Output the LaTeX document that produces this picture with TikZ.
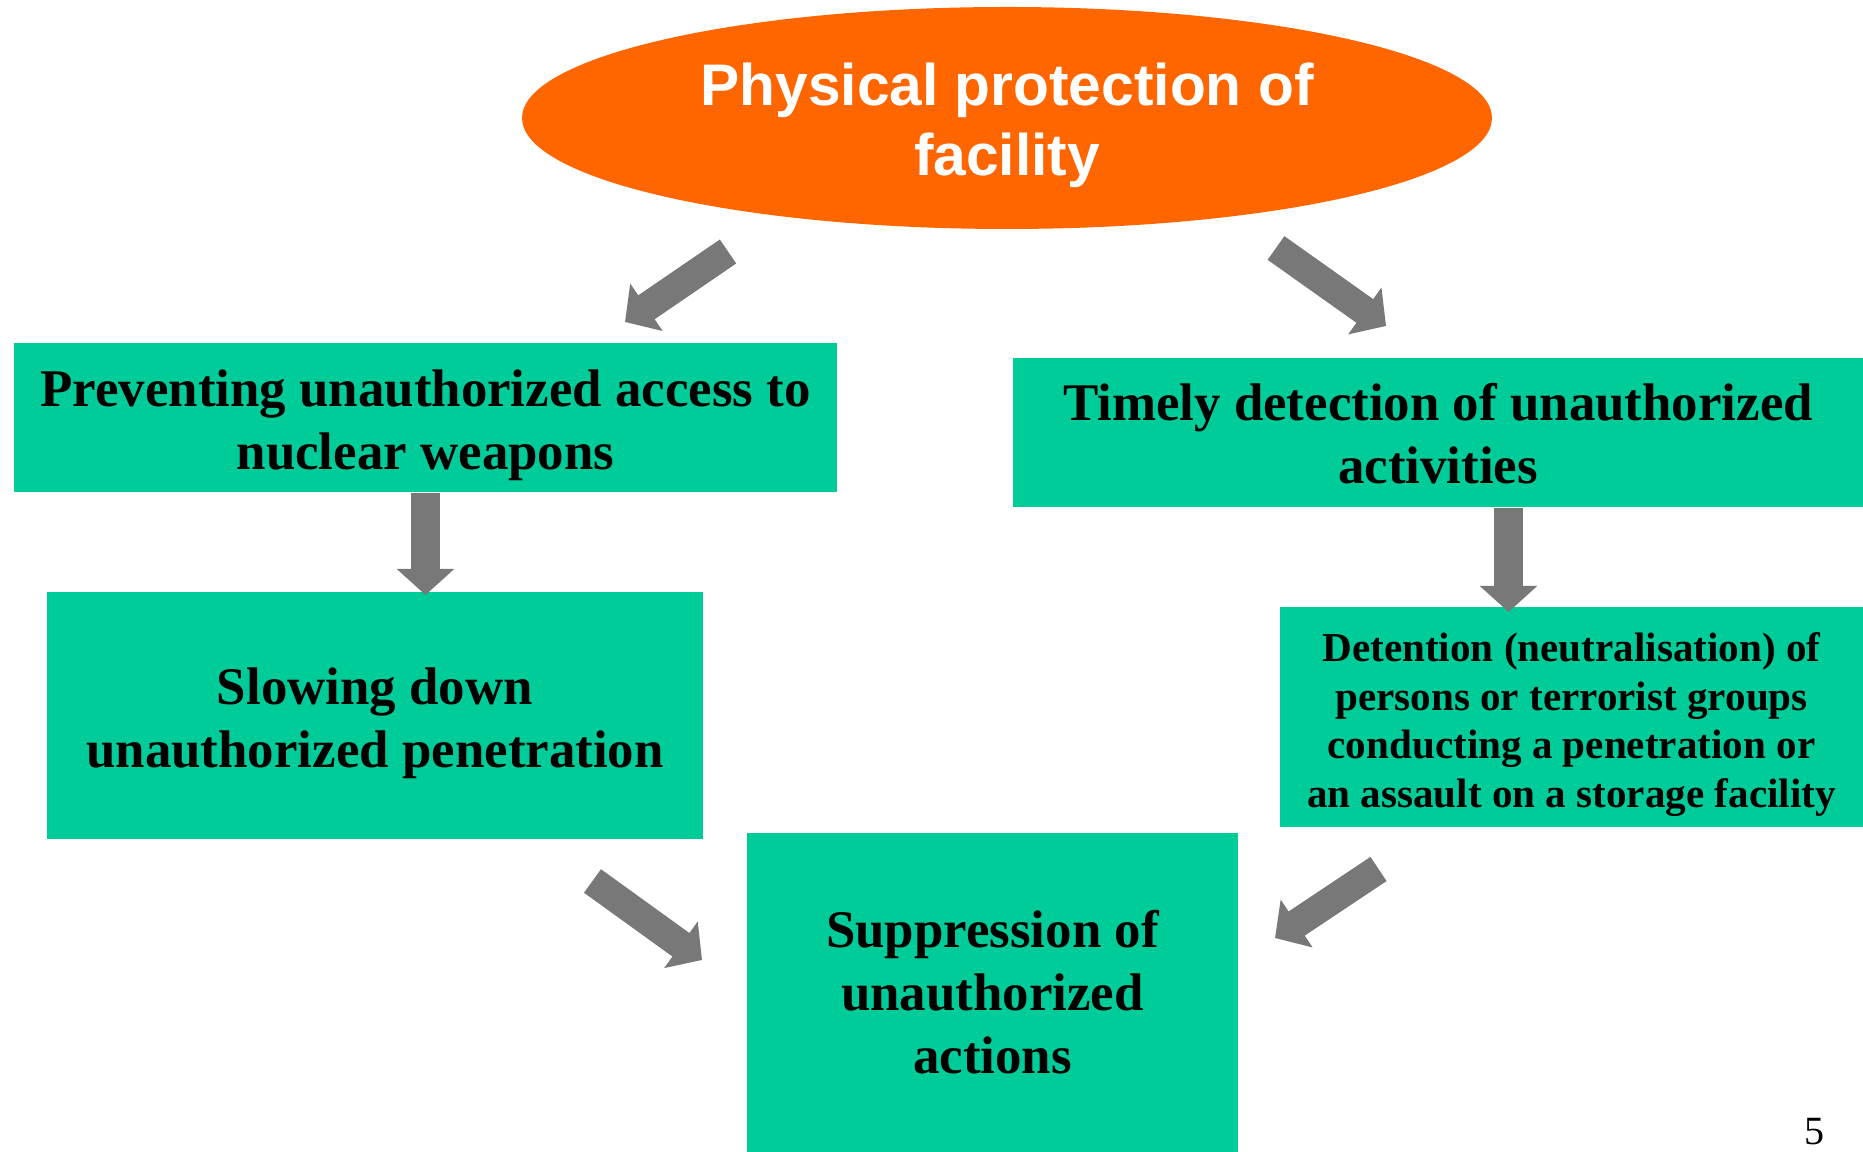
\documentclass[tikz,border=0pt]{standalone}
\usepackage{fontspec}
\setmainfont{Liberation Serif}
\newfontfamily\headfont{Liberation Sans}
\usetikzlibrary{shapes.geometric,arrows.meta}
\definecolor{ppteal}{RGB}{0,204,153}
\definecolor{pporange}{RGB}{255,102,0}
\definecolor{ppgray}{RGB}{120,120,120}
\newcommand{\lift}[1]{\rule{0pt}{#1}}

\begin{document}
\begin{tikzpicture}[x=0.1mm,y=-0.1mm,
  box/.style={fill=ppteal,inner sep=0pt,align=center,
    font=\bfseries\fontsize{15.05}{17.9}\selectfont},
  smallbox/.style={box,font=\bfseries\fontsize{11.7}{13.9}\selectfont},
  blockarrow/.style={ppgray,line width=2.9mm,
    -{Triangle[width=5.6mm,length=2.6mm]}}]
\useasboundingbox (0,0) rectangle (1863,1152);

%---------------------------------------------------
\node[ellipse,fill=pporange,inner sep=0pt,minimum width=97mm,minimum height=22.2mm,
  align=center,text=white,font=\headfont\bfseries\fontsize{16.7}{19.9}\selectfont]
  (phys) at (1007,118) {\lift{5.8mm}Physical protection of\\facility};

%---------------------------------------------------
\node[box,minimum width=82.3mm,minimum height=14.9mm] (prev) at (425.5,417.5)
  {\lift{5.2mm}Preventing unauthorized access to\\nuclear weapons};
\node[box,minimum width=65.6mm,minimum height=24.7mm] (slow) at (375,715.5)
  {\lift{5.2mm}Slowing down\\unauthorized penetration};
\node[box,minimum width=85mm,minimum height=14.9mm] (timely) at (1438,432.5)
  {\lift{4.0mm}Timely detection of unauthorized\\activities};
\node[smallbox,minimum width=58.3mm,minimum height=22mm] (detent) at (1571.5,717)
  {\lift{4.4mm}Detention (neutralisation) of\\persons or terrorist groups\\conducting a penetration or\\an assault on a storage facility};
\node[box,minimum width=49.1mm,minimum height=31.9mm] (supp) at (992.5,992.5)
  {Suppression of\\unauthorized\\actions};

\node[font=\fontsize{11.4}{13}\selectfont,anchor=base] (pagenum) at (1814,1145) {5};

%---------------------------------------------------
\coordinate (a1s) at (728,251.5);   \coordinate (a1e) at (625,322);
\coordinate (a2s) at (1276,248);    \coordinate (a2e) at (1386,326);
\coordinate (a3e) at (425.5,595);
\coordinate (a4e) at (1508.5,612);
\coordinate (a5s) at (592.5,881);   \coordinate (a5e) at (702,960);
\coordinate (a6s) at (1378.5,869);  \coordinate (a6e) at (1275,938);

\draw[blockarrow] (a1s) -- (a1e);
\draw[blockarrow] (a2s) -- (a2e);
\draw[blockarrow] (prev.south) -- (a3e);
\draw[blockarrow] (timely.south -| a4e) -- (a4e);
\draw[blockarrow] (a5s) -- (a5e);
\draw[blockarrow] (a6s) -- (a6e);
\end{tikzpicture}
\end{document}
